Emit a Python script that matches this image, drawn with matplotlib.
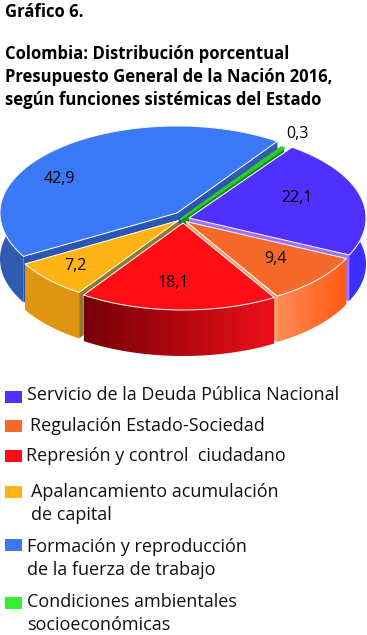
import numpy as np
import matplotlib
matplotlib.use('Agg')
import matplotlib.pyplot as plt
from matplotlib.patches import Polygon
from matplotlib.colors import LinearSegmentedColormap

# Data
categories = ['Servicio de la Deuda Pública Nacional', 'Regulación Estado-Sociedad',
              'Represión y control  ciudadano', 'Apalancamiento acumulación\nde capital',
              'Formación y reproducción\nde la fuerza de trabajo',
              'Condiciones ambientales\nsocioeconómicas']
values = [22.1, 9.4, 18.1, 7.2, 42.9, 0.3]
value_labels = ['22,1', '9,4', '18,1', '7,2', '42,9', '0,3']

# Styles
top_colors = ['#5030ff', '#f5692a', '#ff0d14', '#fdb414', '#3a78f5', '#2fc82f']
legend_colors = ['#5030ff', '#f5692a', '#ff0d14', '#fdb414', '#3a78f5', '#35f030']
wall_colors = [('#3a30ff', '#3a30ff'), ('#ff8a55', '#ff5a12'), ('#760008', '#ee0f18'),
               ('#e09512', '#e09512'), ('#2f5cb0', '#2f5cb0'), ('#1a8a1a', '#1a8a1a')]
face_colors = ['#a070ff', '#f0a070', '#f4a080', '#8f7a30', '#2a55b0', '#1a8a1a']

# Pie geometry in image pixels
apex = [(189, 218), (186, 221.5), (183, 223), (178.5, 220.5), (177, 213), (181, 219)]
label_xy = [(297, 198), (275, 259), (173, 283), (75, 266), (59, 179), (297, 134)]
rx, ry, depth = 177, 87, 46
start_angle = 54.4
draw_order = [4, 5, 0, 1, 3, 2]

fig = plt.figure(figsize=(3.67, 6.35), dpi=100)
ax = fig.add_axes([0, 0, 1, 1])
ax.set_xlim(0, 367)
ax.set_ylim(635, 0)
ax.axis('off')
font = 'Open Sans'

# angles go clockwise from the start
ends = start_angle - np.cumsum(values) * 3.6
starts = np.r_[start_angle, ends[:-1]]

for i in draw_order:
    cx, cy = apex[i]
    t = np.radians(np.linspace(starts[i], ends[i], 120))
    rim_x = cx + rx * np.cos(t)
    rim_y = cy - ry * np.sin(t)

    # cut faces
    for j in (0, -1):
        quad = [(cx, cy), (rim_x[j], rim_y[j]), (rim_x[j], rim_y[j] + depth), (cx, cy + depth)]
        ax.add_patch(Polygon(quad, facecolor=face_colors[i], edgecolor='none', zorder=1))

    # outer wall with left to right gradient
    wall = np.r_[np.c_[rim_x, rim_y], np.c_[rim_x[::-1], rim_y[::-1] + depth]]
    clip = Polygon(wall, facecolor='none', edgecolor='none', transform=ax.transData)
    ax.add_patch(clip)
    cmap = LinearSegmentedColormap.from_list('w', wall_colors[i])
    im = ax.imshow(np.linspace(0, 1, 256).reshape(1, -1), cmap=cmap, aspect='auto',
                   extent=[rim_x.min(), rim_x.max(), rim_y.max() + depth, rim_y.min()], zorder=1)
    im.set_clip_path(clip)

    # top of the slice
    top = np.r_[[(cx, cy)], np.c_[rim_x, rim_y]]
    edge = top_colors[i] if i == 5 else 'white'
    ax.add_patch(Polygon(top, facecolor=top_colors[i], edgecolor=edge,
                         linewidth=1.6 if i == 5 else 0.7, joinstyle='round', zorder=1))

ax.set_xlim(0, 367)
ax.set_ylim(635, 0)

for lab, (x, y) in zip(value_labels, label_xy):
    ax.text(x, y, lab, fontsize=11.5, family=font, ha='center', va='center', color='black', zorder=3)

# Title
ax.text(5, 12, 'Gráfico 6.', fontsize=12, family=font, fontweight='bold', va='center')
title_lines = ['Colombia: Distribución porcentual',
               'Presupuesto General de la Nación 2016,',
               'según funciones sistémicas del Estado']
for line, y in zip(title_lines, [54, 77, 100]):
    ax.text(5, y, line, fontsize=12, family=font, fontweight='bold', va='center')

# Legend
swatch_y = [397, 426, 456, 492, 545, 603]
text_x = [27, 30, 26, 31, 27, 27]
text_y = [395, 426, 456, 492, 547, 602]
for i, name in enumerate(categories):
    ax.add_patch(plt.Rectangle((5, swatch_y[i] - 6), 17, 12, facecolor=legend_colors[i], edgecolor='none'))
    for k, line in enumerate(name.split('\n')):
        ax.text(text_x[i], text_y[i] + k * 23, line, fontsize=13, family=font, va='center', color='#111111')

fig.savefig('out.png', dpi=100)
